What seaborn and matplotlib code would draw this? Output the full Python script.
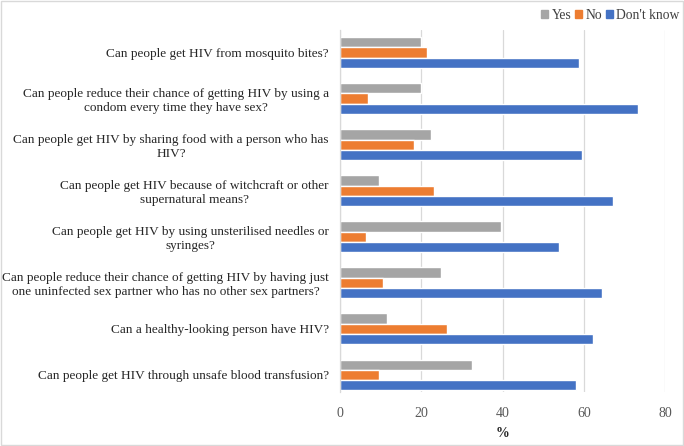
import matplotlib
matplotlib.use("Agg")
import matplotlib.pyplot as plt
import seaborn as sns
import pandas as pd
from matplotlib.patches import Rectangle

questions = [
    "Can people get HIV from mosquito bites?",
    "Can people reduce their chance of getting HIV by using a\ncondom every time they have sex?",
    "Can people get HIV by sharing food with a person who has\nHIV?",
    "Can people get HIV because of witchcraft or other\nsupernatural means?",
    "Can people get HIV by using unsterilised needles or\nsyringes?",
    "Can people reduce their chance of getting HIV by having just\none uninfected sex partner who has no other sex partners?",
    "Can a healthy-looking person have HIV?",
    "Can people get HIV through unsafe blood transfusion?",
]
yes = [20.0, 20.0, 22.5, 9.7, 39.7, 24.9, 11.5, 32.6]
no = [21.3, 6.8, 18.1, 23.2, 6.5, 10.6, 26.4, 9.5]
dont_know = [58.9, 73.3, 59.5, 67.2, 54.0, 64.6, 62.3, 58.2]
series = ["Yes", "No", "Don't know"]
colors = ["#A5A5A5", "#ED7D31", "#4472C4"]

rows = []
for s, vals in zip(series, [yes, no, dont_know]):
    for q, v in zip(questions, vals):
        rows.append({"Question": q, "Response": s, "Value": v})
df = pd.DataFrame(rows)

sns.set_theme(style="white")
plt.rcParams["font.family"] = ["Liberation Serif", "DejaVu Serif"]

fig = plt.figure(figsize=(6.84, 4.46), dpi=100)
ax = fig.add_axes([340/684, 1-392/446, 325/684, 362/446])

sns.barplot(data=df, y="Question", x="Value", hue="Response", order=questions,
            hue_order=series, palette=colors, orient="h", width=0.67,
            saturation=1, ax=ax, legend=True)

ax.set_xlim(0, 80)
ax.set_ylim(7.37, -0.49)
ax.set_xticks([0, 20, 40, 60, 80])
ax.xaxis.grid(True, color="#D9D9D9", linewidth=0.9)
ax.set_axisbelow(True)
for side in ["top", "right", "bottom"]:
    ax.spines[side].set_visible(False)
ax.spines["left"].set_color("#D9D9D9")
ax.spines["left"].set_linewidth(0.9)
ax.tick_params(axis="x", length=0, labelsize=10, labelcolor="#595959", pad=11)
ax.tick_params(axis="y", length=0, labelsize=9.5, labelcolor="#262626", pad=8)
for lab in ax.get_yticklabels():
    lab.set_horizontalalignment("right")
    lab.set_multialignment("center")
ax.set_ylabel("")
ax.set_xlabel("%", fontsize=10, fontweight="bold", color="#262626", labelpad=5)

ax.get_legend().remove()
handles = [Rectangle((0, 0), 1, 1, color=c) for c in colors]
fig.legend(handles, series, loc="upper right", bbox_to_anchor=(688/684, 1-0.5/446),
           ncol=3, frameon=False, fontsize=9.8, handlelength=0.5, handleheight=0.5,
           handletextpad=0.25, columnspacing=0.3, labelcolor="#404040",
           borderpad=0.1)

fig.patches.append(Rectangle((0.001, 0.002), 0.997, 0.996, transform=fig.transFigure,
                             fill=False, edgecolor="#D9D9D9", linewidth=1))

fig.savefig("out.png", dpi=100)
